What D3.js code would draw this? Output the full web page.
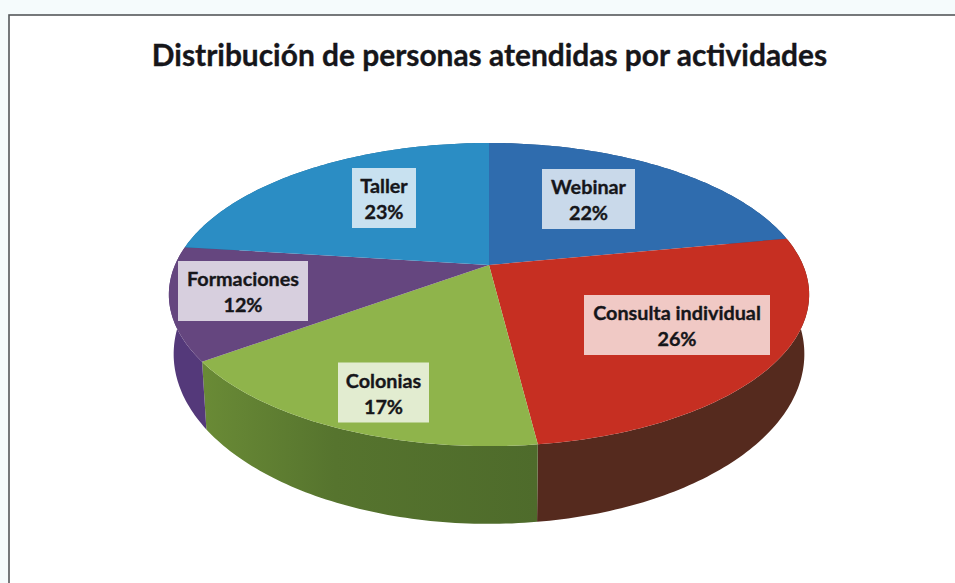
<!DOCTYPE html>
<html><head><meta charset="utf-8">
<script src="https://cdn.jsdelivr.net/npm/d3@7"></script>
<style>html,body{margin:0;padding:0;background:#fff;overflow:hidden}svg{display:block}text{font-family:Lato,"Open Sans",sans-serif;font-weight:700;fill:#16161a;stroke:#16161a;stroke-width:.35}</style>
</head><body><svg id="c" width="955" height="583"></svg>
<script>
const categories = ["Webinar","Consulta individual","Colonias","Formaciones","Taller"];
const percents = [22,26,17,12,23];
const titleText = "Distribución de personas atendidas por actividades";
const topColors = ["#2f6cae","#c62f22","#8fb44b","#65467f","#2b8dc4"];
const wallColors = ["#234f80","#552a1e","#537030","#54397a","#1f6a94"];
// layout: centre of each label box, and its width
const labelCx = [588.5,677,383.5,243,384];
const labelCy = [199,325,392.5,291,198];
const labelW = [93,186,91,130,64];
const labelH = 60;

const svg = d3.select("#c");
// scanner tint outside the frame
svg.append("rect").attr("width",955).attr("height",583).attr("fill","#f5fbfc");
svg.append("rect").attr("x",9).attr("y",15).attr("width",960).attr("height",580)
   .attr("fill","#fff").attr("stroke","#55585a").attr("stroke-width",1.6);

svg.append("text").attr("x",489.5).attr("y",66).attr("text-anchor","middle")
   .attr("font-size",29.9).text(titleText);

// perspective projection of a unit circle on the pie's plane
const cx=489, cy=265, k=0.195, sX=314, sY=145.8;
const baseSx=0.985, baseSy=1.12, baseDy=56;
function project(a){const X=Math.sin(a),Y=-Math.cos(a),w=1-k*Y;return [sX*X/w,sY*Y/w];}
const pTop=a=>{const p=project(a);return [cx+p[0],cy+p[1]];};
const pBase=a=>{const p=project(a);return [cx+p[0]*baseSx,cy+p[1]*baseSy+baseDy];};
const line=d3.line();
const arcs=d3.pie().sort(null)(percents);
const samples=d=>{const n=Math.max(8,Math.ceil((d.endAngle-d.startAngle)*60));
  return d3.range(n+1).map(i=>d.startAngle+(d.endAngle-d.startAngle)*i/n);};

const defs=svg.append("defs");
const grad=defs.append("linearGradient").attr("id","greenWall").attr("gradientUnits","userSpaceOnUse")
  .attr("x1",200).attr("x2",537).attr("y1",0).attr("y2",0);
grad.append("stop").attr("offset",0).attr("stop-color","#6a8b36");
grad.append("stop").attr("offset",0.4).attr("stop-color","#56742e");
grad.append("stop").attr("offset",1).attr("stop-color","#4e6b2b");

svg.append("g").selectAll("path").data(arcs).join("path")
  .attr("d",d=>{const s=samples(d);return line(s.map(pTop).concat(s.slice().reverse().map(pBase)))+"Z";})
  .attr("fill",(d,i)=>i===2?"url(#greenWall)":wallColors[i]);

svg.append("g").selectAll("path").data(arcs).join("path")
  .attr("d",d=>line([[cx,cy]].concat(samples(d).map(pTop)))+"Z")
  .attr("fill",(d,i)=>topColors[i]);

const lab=svg.append("g").selectAll("g").data(categories).join("g")
  .attr("transform",(d,i)=>`translate(${labelCx[i]},${labelCy[i]})`);
lab.append("rect").attr("x",(d,i)=>-labelW[i]/2).attr("y",-labelH/2)
  .attr("width",(d,i)=>labelW[i]).attr("height",labelH).attr("fill","#fff").attr("fill-opacity",0.74);
lab.append("text").attr("text-anchor","middle").attr("y",-5).attr("font-size",19.8).text(d=>d);
lab.append("text").attr("text-anchor","middle").attr("y",21).attr("font-size",19.8).text((d,i)=>percents[i]+"%");
</script></body></html>
